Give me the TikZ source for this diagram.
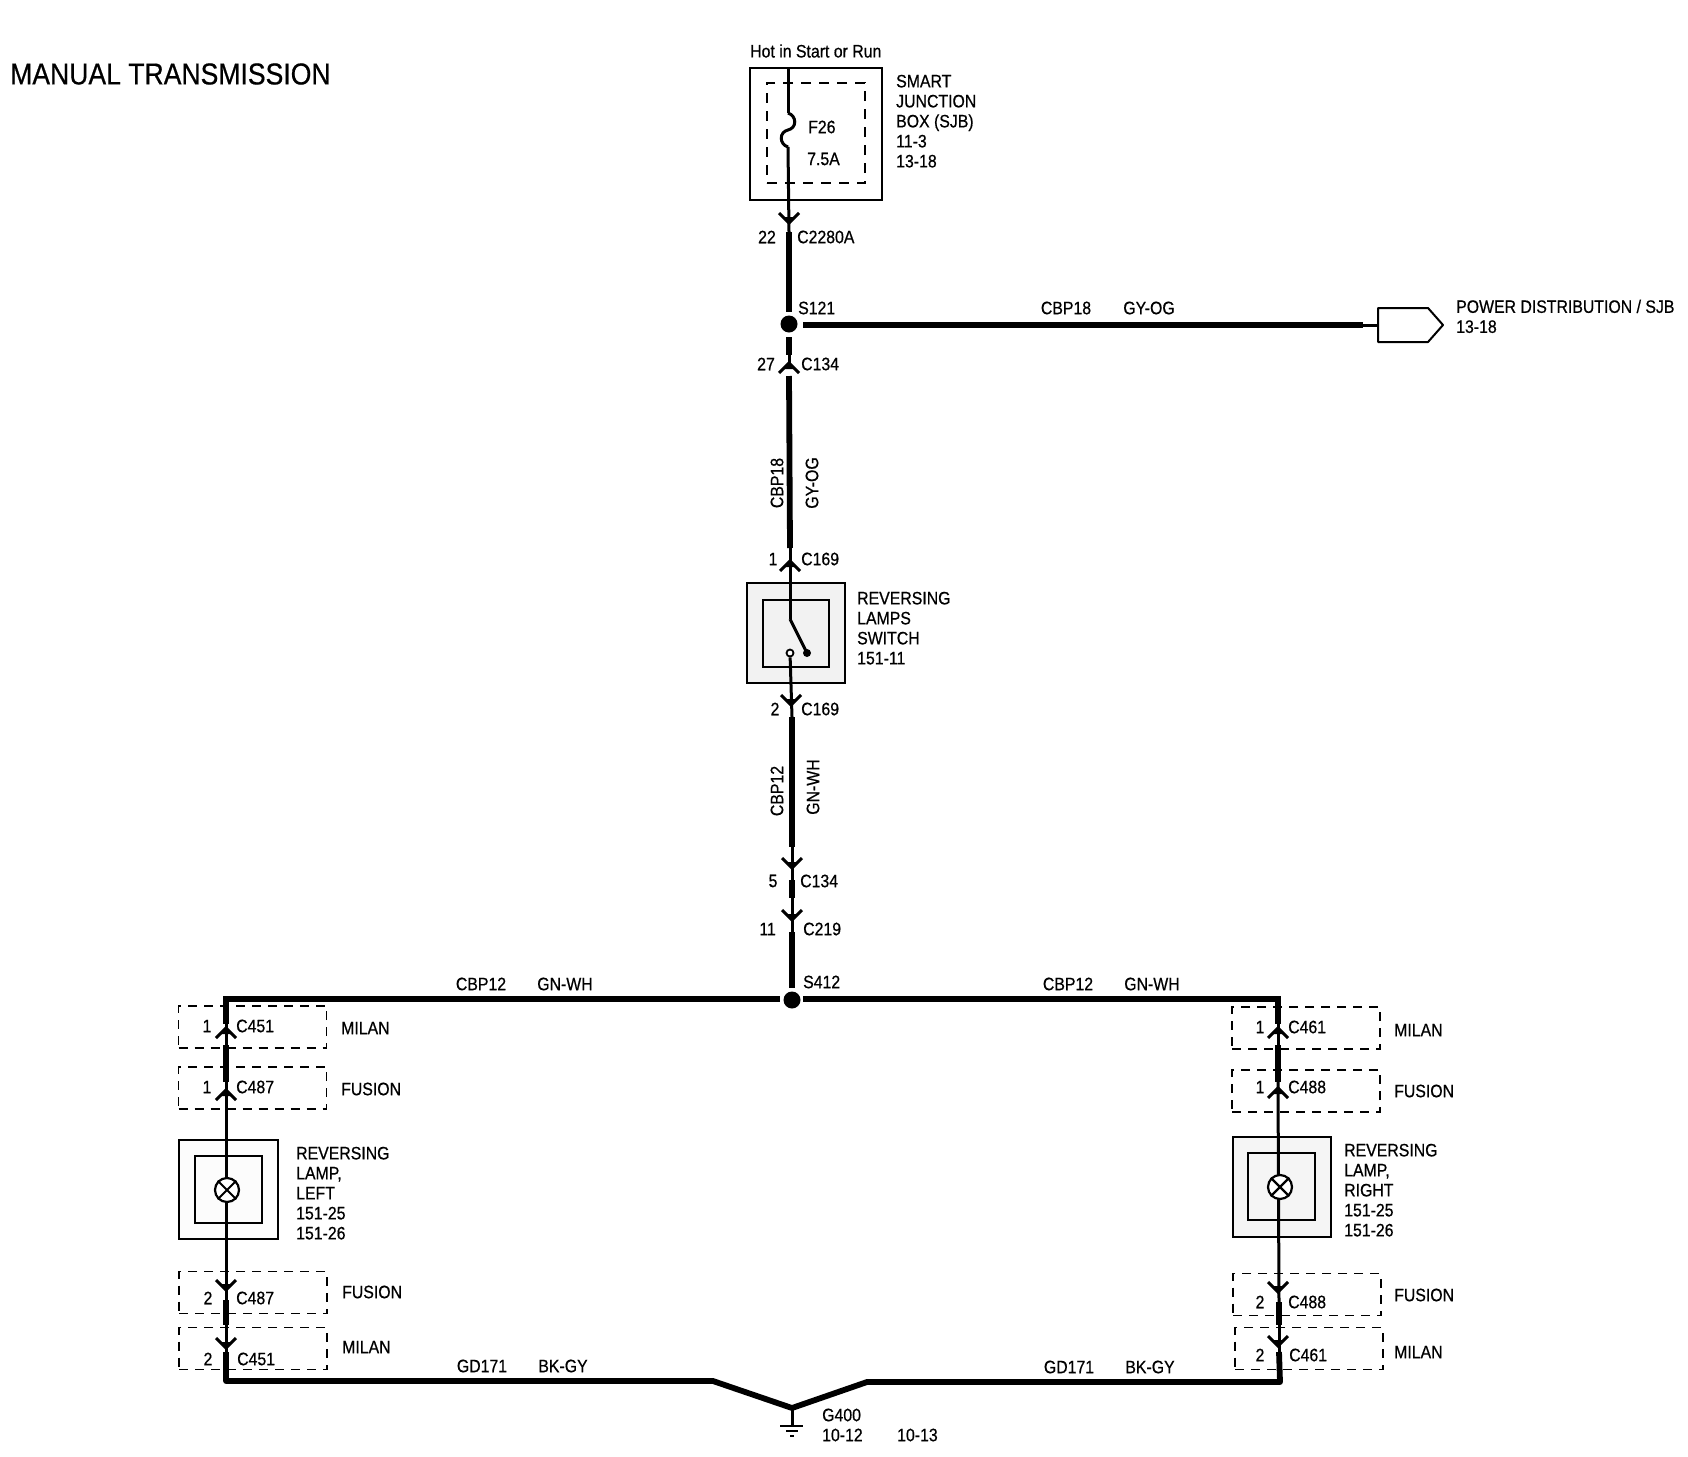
\documentclass[tikz,border=0pt]{standalone}
\usepackage{fontspec}
\setmainfont[FakeStretch=0.88,FakeBold=0.6]{Liberation Sans}
\usetikzlibrary{positioning}
\tikzset{
	lbl/.style={inner sep=0pt,yshift=1pt,font=\fontsize{18}{20}\selectfont},
	block/.style={lbl,align=left,anchor=north west},
	wirethin/.style={line width=3pt},
	wirefat/.style={line width=5.8pt},
	hull/.style={draw,line width=2.4pt,inner sep=0pt},
	dashbox/.style={draw,line width=1.8pt,dash pattern=on 9pt off 7pt,inner sep=0pt,minimum width=148pt,minimum height=42pt},
	dot/.style={circle,fill,inner sep=0pt,minimum size=17pt},
	chevdown/.pic={\draw[line width=3pt] (-10,-10) -- (0,0) -- (10,-10); \fill (0,1) -- (-5,-6) -- (5,-6) -- cycle;},
	chevup/.pic={\draw[line width=3pt] (-10,10) -- (0,0) -- (10,10); \fill (0,-1) -- (-5,6) -- (5,6) -- cycle;}
}
\begin{document}
\begin{tikzpicture}[x=1pt,y=-1pt]
	\useasboundingbox (0,0) rectangle (1688,1456);
	\node[inner sep=0pt,anchor=west,font=\fontsize{30.2}{32}\selectfont] (title) at (10,74) {MANUAL TRANSMISSION};
	% boxes
	\node[hull,minimum width=132pt,minimum height=132pt] (sjb) at (816,134) {};
	\node[draw,line width=1.9pt,dash pattern=on 10pt off 8pt,inner sep=0pt,minimum width=98pt,minimum height=100pt] (sjbin) at (816,133) {};
	\node[hull,fill=gray!10,minimum width=98pt,minimum height=100pt] (sw) at (796,633) {};
	\node[hull,minimum width=66pt,minimum height=67pt] (swin) at (796,633.5) {};
	\node[hull,fill=gray!2,minimum width=99pt,minimum height=99pt] (lampL) at (228.5,1189.5) {};
	\node[hull,minimum width=67pt,minimum height=67pt] (lampLin) at (228.5,1189.5) {};
	\node[hull,fill=gray!8,minimum width=98pt,minimum height=100pt] (lampR) at (1282,1187) {};
	\node[hull,minimum width=67pt,minimum height=67pt] (lampRin) at (1281.5,1186.5) {};
	\node[dashbox] (milanLt) at (252.5,1027) {};
	\node[dashbox] (fusionLt) at (252.5,1088) {};
	\node[dashbox] (fusionLb) at (253,1292.5) {};
	\node[dashbox] (milanLb) at (253,1348.5) {};
	\node[dashbox] (milanRt) at (1306,1028) {};
	\node[dashbox] (fusionRt) at (1306,1091) {};
	\node[dashbox] (fusionRb) at (1307,1294.5) {};
	\node[dashbox] (milanRb) at (1309,1348.5) {};
	% points on the wires
	\coordinate (top) at (788,68);
	\coordinate (fa) at (788,113);
	\coordinate (fb) at (788,147);
	\coordinate (c2280) at (789,223);
	\coordinate (c2280e) at (789,232);
	\node[dot] (s121) at (789,324) {};
	\coordinate (s121a) at (789,312);
	\coordinate (s121b) at (789,337);
	\coordinate (s121c) at (789,355);
	\coordinate (c134a) at (789,363);
	\coordinate (c134ae) at (789,376);
	\coordinate (c169a) at (790,561);
	\coordinate (c169ae) at (790,548);
	\coordinate (hinge) at (790,619);
	\coordinate (blade) at (807,653);
	\node[circle,draw,fill=white,line width=1.8pt,inner sep=0pt,minimum size=7pt] (contact) at (790,653) {};
	\coordinate (c169b) at (791,705);
	\coordinate (c169be) at (792,717);
	\coordinate (c134be) at (792,847);
	\coordinate (c134b) at (792,868);
	\coordinate (c219s) at (792,880);
	\coordinate (c219e) at (792,898);
	\coordinate (c219) at (792,920);
	\coordinate (s412a) at (792,932);
	\coordinate (s412e) at (792,988);
	\node[dot] (s412) at (792,1000) {};
	\coordinate (pwr) at (1378,325);
	\coordinate (wfat) at (1363,325);
	\coordinate (cl) at (225,999);
	\coordinate (cr) at (1278,999);
	\coordinate (bl) at (226,1381);
	\coordinate (br) at (1280,1382);
	\coordinate (vl) at (713,1381);
	\coordinate (vr) at (867,1382);
	\coordinate (g400) at (792,1408);
	\coordinate (gnd) at (792,1426);
	\coordinate (la) at (226,1024);
	\coordinate (lb) at (226,1045);
	\coordinate (lc) at (226,1082);
	\coordinate (ld) at (226,1300);
	\coordinate (le) at (226,1325);
	\coordinate (lf) at (226,1352);
	\coordinate (ra) at (1278,1024);
	\coordinate (rb) at (1278,1045);
	\coordinate (rc) at (1278,1082);
	\coordinate (rd) at (1279,1302);
	\coordinate (re) at (1279,1325);
	\coordinate (rf) at (1279,1352);
	% wires
	\path[wirethin] (top) edge (fa)
		(fb) edge (c2280e)
		(s121c) edge (c134a)
		(c169ae) edge (c169a)
		(c169a) edge (hinge)
		(hinge) edge (blade)
		(contact) edge (c169be)
		(c134be) edge (c219s)
		(c219e) edge (s412a)
		(g400) edge (gnd)
		(wfat) edge (pwr)
		(la) edge (lb)
		(lc) edge (ld)
		(le) edge (lf)
		(ra) edge (rb)
		(rc) edge (rd)
		(re) edge (rf);
	\draw[wirethin] (fa) .. controls (797,116) and (797,128) .. (788,130) .. controls (779,132) and (779,144) .. (fb);
	\path[wirefat] (c2280e) edge (s121a)
		(s121b) edge (s121c)
		(c134ae) edge (c169ae)
		(c169be) edge (c134be)
		(c219s) edge (c219e)
		(s412a) edge (s412e)
		(lb) edge (lc)
		(ld) edge (le)
		(lf) edge (bl)
		(rb) edge (rc)
		(rd) edge (re)
		(rf) edge (br);
	\draw[wirefat] (803,325) -- (wfat);
	\draw[wirefat,line cap=round] (bl) -- (vl) -- (g400) -- (vr) -- (br);
	\draw[wirefat] (la) |- (780,999);
	\draw[wirefat] (803,999) -| (ra);
	% switch blade and lamps
	\fill (blade) circle (4pt);
	\node[circle,draw,fill=white,line width=2.2pt,inner sep=0pt,minimum size=24pt] (lampLx) at (227,1190) {};
	\node[circle,draw,fill=white,line width=2.2pt,inner sep=0pt,minimum size=24pt] (lampRx) at (1280,1187) {};
	\draw[line width=1.8pt] (lampLx.north west) -- (lampLx.south east) (lampLx.north east) -- (lampLx.south west);
	\draw[line width=2.4pt] (lampRx.north west) -- (lampRx.south east) (lampRx.north east) -- (lampRx.south west);
	% connectors
	\pic at (c2280) {chevdown};
	\pic at (c134a) {chevup};
	\pic at (c169a) {chevup};
	\pic at (c169b) {chevdown};
	\pic at (c134b) {chevdown};
	\pic at (c219) {chevdown};
	\pic at (226,1028) {chevup};
	\pic at (226,1090) {chevup};
	\pic at (226,1290) {chevdown};
	\pic at (226,1348) {chevdown};
	\pic at (1278,1028) {chevup};
	\pic at (1278,1088) {chevup};
	\pic at (1278,1292) {chevdown};
	\pic at (1278,1346) {chevdown};
	% ground
	\draw[line width=2pt] (780,1426) -- (803,1426) (786,1431) -- (798,1431);
	\draw[line width=1.6pt] (790,1436) -- (794,1436);
	% outgoing connector
	\draw[line width=2pt,line join=round] (1378,308) -- (1428,308) -- (1443,325) -- (1428,342) -- (1378,342) -- cycle;
	% labels
	\node[lbl,anchor=west] (hot) at (750,52) {Hot in Start or Run};
	\node[block] (sjbt) at (896,75.6) {SMART\\JUNCTION\\BOX (SJB)\\11-3\\13-18};
	\node[lbl,anchor=west] (f26) at (808,128) {F26};
	\node[lbl,anchor=west] (f75) at (807,160) {7.5A};
	\node[lbl,anchor=east] (n22) at (776,238) {22};
	\node[lbl,anchor=west] (c2280t) at (797,238) {C2280A};
	\node[lbl,anchor=west] (s121t) at (798,309) {S121};
	\node[lbl] (cbh1) at (1066,309) {CBP18};
	\node[lbl] (goh1) at (1149,309) {GY-OG};
	\node[block] (pwrt) at (1456,300.6) {POWER DISTRIBUTION / SJB\\13-18};
	\node[lbl,anchor=east] (n27) at (775,365) {27};
	\node[lbl,anchor=west] (c134t) at (801,365) {C134};
	\node[lbl,rotate=90] (cbv1) at (777,484) {CBP18};
	\node[lbl,rotate=90] (gov1) at (812,484) {GY-OG};
	\node[lbl] (n1) at (773,560) {1};
	\node[lbl,anchor=west] (c169t) at (801,560) {C169};
	\node[block] (swt) at (857,592.6) {REVERSING\\LAMPS\\SWITCH\\151-11};
	\node[lbl] (n2) at (775,710) {2};
	\node[lbl,anchor=west] (c169u) at (801,710) {C169};
	\node[lbl,rotate=90] (cbv2) at (777,792) {CBP12};
	\node[lbl,rotate=90] (gnv2) at (813,788) {GN-WH};
	\node[lbl] (n5) at (773,882) {5};
	\node[lbl,anchor=west] (c134u) at (800,882) {C134};
	\node[lbl,anchor=east] (n11) at (776,930) {11};
	\node[lbl,anchor=west] (c219t) at (803,930) {C219};
	\node[lbl,anchor=west] (s412t) at (803,983) {S412};
	\node[lbl] (cbl) at (481,985) {CBP12};
	\node[lbl] (gnl) at (565,985) {GN-WH};
	\node[lbl] (cbr) at (1068,985) {CBP12};
	\node[lbl] (gnr) at (1152,985) {GN-WH};
	\node[lbl] (gdl) at (482,1367) {GD171};
	\node[lbl] (bkl) at (563,1367) {BK-GY};
	\node[lbl] (gdr) at (1069,1368) {GD171};
	\node[lbl] (bkr) at (1150,1368) {BK-GY};
	% left column
	\node[lbl] (l1a) at (207,1027) {1};
	\node[lbl,anchor=west] (c451a) at (236,1027) {C451};
	\node[lbl,anchor=west] (mla) at (341,1029) {MILAN};
	\node[lbl] (l1b) at (207,1088) {1};
	\node[lbl,anchor=west] (c487a) at (236,1088) {C487};
	\node[lbl,anchor=west] (fla) at (341,1090) {FUSION};
	\node[block] (lampLt) at (296,1147.6) {REVERSING\\LAMP,\\LEFT\\151-25\\151-26};
	\node[lbl] (l2a) at (208,1299) {2};
	\node[lbl,anchor=west] (c487b) at (236,1299) {C487};
	\node[lbl,anchor=west] (flb) at (342,1293) {FUSION};
	\node[lbl] (l2b) at (208,1360) {2};
	\node[lbl,anchor=west] (c451b) at (237,1360) {C451};
	\node[lbl,anchor=west] (mlb) at (342,1348) {MILAN};
	% right column
	\node[lbl] (r1a) at (1260,1028) {1};
	\node[lbl,anchor=west] (c461a) at (1288,1028) {C461};
	\node[lbl,anchor=west] (mra) at (1394,1031) {MILAN};
	\node[lbl] (r1b) at (1260,1088) {1};
	\node[lbl,anchor=west] (c488a) at (1288,1088) {C488};
	\node[lbl,anchor=west] (fra) at (1394,1092) {FUSION};
	\node[block] (lampRt) at (1344,1144.6) {REVERSING\\LAMP,\\RIGHT\\151-25\\151-26};
	\node[lbl] (r2a) at (1260,1303) {2};
	\node[lbl,anchor=west] (c488b) at (1288,1303) {C488};
	\node[lbl,anchor=west] (frb) at (1394,1296) {FUSION};
	\node[lbl] (r2b) at (1260,1356) {2};
	\node[lbl,anchor=west] (c461b) at (1289,1356) {C461};
	\node[lbl,anchor=west] (mrb) at (1394,1353) {MILAN};
	% ground labels
	\node[lbl,anchor=west] (g400t) at (822,1416) {G400};
	\node[lbl,anchor=west] (g10a) at (822,1436) {10-12};
	\node[lbl,anchor=west] (g10b) at (897,1436) {10-13};
\end{tikzpicture}
\end{document}
